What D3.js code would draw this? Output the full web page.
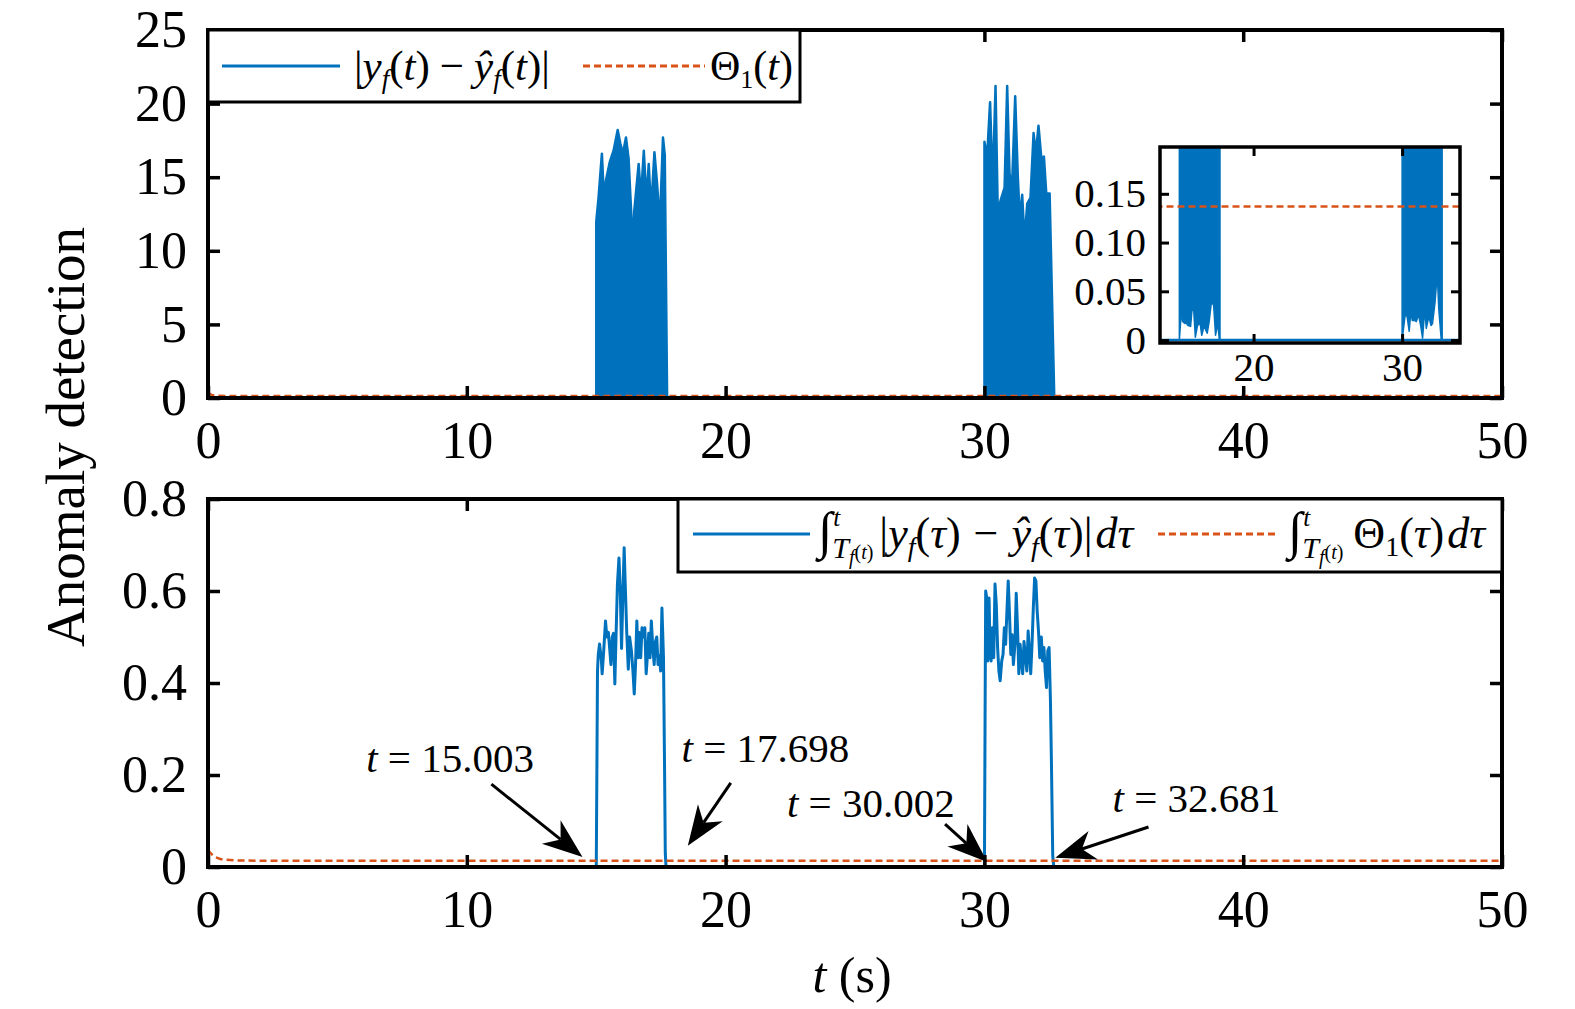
<!doctype html>
<html lang="en">
<head>
<meta charset="utf-8"/>
<title>Anomaly detection</title>
<script src="https://cdn.jsdelivr.net/npm/d3@7"></script>
<style>
  body { margin: 0; background: #fff; }
  svg { display: block; font-family: "Liberation Serif", "Times New Roman", serif; }
</style>
</head>
<body>
<svg id="chart" width="1575" height="1009"></svg>
<script>
// ---- data ----
const xTicks = [0, 10, 20, 30, 40, 50];
const topYTicks = [0, 5, 10, 15, 20, 25];
const botYTicks = [0, 0.2, 0.4, 0.6, 0.8];
const insetXTicks = [20, 30];
const insetYTicks = [0, 0.05, 0.10, 0.15];

// |y_f - yhat_f| : dense oscillation, kept as upper / lower envelope [t, value]
const burst1Upper = [[15.003,0],[15.003,12.0],[15.09,13.6],[15.22,16.6],[15.29,13.9],[15.39,14.9],[15.52,16.0],
  [15.67,16.8],[15.83,18.2],[15.93,17.3],[16.03,16.6],[16.15,17.7],[16.25,16.3],[16.35,12.7],[16.42,10.2],
  [16.47,12.7],[16.64,15.9],[16.73,13.6],[16.84,16.8],[16.94,13.4],[17.03,15.9],[17.12,12.7],[17.25,16.7],
  [17.35,14.6],[17.46,11.8],[17.58,17.7],[17.65,16.5],[17.74,0]];
const burst1Lower = [[15.003,0],[15.15,0.032],[15.22,0.019],[15.37,0.017],[15.48,0.018],[15.50,0.089],[15.52,0.016],
  [15.59,0.015],[15.76,0.014],[15.86,0.032],[15.96,0.030],[15.97,0.19],[15.98,0.028],[16.08,0.003],[16.23,0.015],
  [16.40,0.017],[16.51,0.005],[16.60,0.010],[16.62,0.100],[16.64,0.012],[16.73,0.012],[16.88,0.007],[17.01,0.019],
  [17.16,0.039],[17.31,0.036],[17.44,0.005],[17.59,0.017],[17.70,0],[17.74,0]];
const burst2Upper = [[30.002,0],[30.002,17.4],[30.105,16.4],[30.22,20.1],[30.32,14.3],[30.43,21.2],[30.52,12.3],
  [30.62,13.4],[30.78,14.3],[30.88,21.2],[30.97,15.3],[31.06,14.0],[31.19,20.5],[31.29,15.1],[31.37,12.1],
  [31.46,13.8],[31.55,10.7],[31.655,13.2],[31.78,13.6],[31.90,18.0],[31.99,16.6],[32.09,18.5],[32.20,16.3],
  [32.30,16.4],[32.39,13.9],[32.52,13.9],[32.70,0]];
const burst2Lower = [[30.002,0],[30.21,0.026],[30.34,0.024],[30.48,0.009],[30.59,0.029],[30.69,0.020],[30.82,0.020],
  [30.84,0.079],[30.86,0.020],[30.96,0.019],[31.11,0.026],[31.26,0.014],[31.38,0.002],[31.53,0.032],[31.63,0.012],
  [31.80,0.024],[31.95,0.015],[32.05,0.017],[32.22,0.039],[32.37,0.068],[32.47,0.032],[32.64,0],[32.70,0]];
const residualBase = [[0,0],[50,0]];

// threshold Theta_1(t)
const theta = [[0,0.35],[0.15,0.20],[0.4,0.145],[1,0.137],[50,0.137]];

// windowed integrals
const intResidual1 = [[15.003,0],[15.05,0.426],[15.08,0.462],[15.13,0.485],[15.20,0.45],[15.23,0.42],[15.29,0.47],
  [15.36,0.535],[15.41,0.50],[15.47,0.51],[15.52,0.475],[15.57,0.44],[15.62,0.50],[15.67,0.508],[15.72,0.398],
  [15.77,0.51],[15.82,0.615],[15.88,0.672],[15.93,0.60],[15.98,0.475],[16.03,0.59],[16.08,0.694],[16.13,0.60],
  [16.18,0.51],[16.24,0.43],[16.29,0.50],[16.36,0.47],[16.42,0.426],[16.47,0.376],[16.52,0.44],[16.57,0.535],
  [16.62,0.455],[16.67,0.51],[16.72,0.455],[16.77,0.52],[16.83,0.50],[16.88,0.52],[16.93,0.42],[16.98,0.46],
  [17.03,0.508],[17.08,0.455],[17.13,0.535],[17.19,0.475],[17.24,0.44],[17.29,0.49],[17.34,0.50],[17.39,0.44],
  [17.44,0.46],[17.49,0.426],[17.54,0.563],[17.60,0.455],[17.64,0.224],[17.67,0.03],[17.698,0]];
const intResidual2 = [[30.002,0],[30.03,0.376],[30.05,0.60],[30.09,0.585],[30.13,0.448],[30.18,0.585],[30.22,0.462],
  [30.26,0.448],[30.31,0.52],[30.36,0.455],[30.41,0.615],[30.46,0.57],[30.51,0.477],[30.56,0.426],[30.61,0.405],
  [30.67,0.448],[30.72,0.462],[30.77,0.52],[30.82,0.484],[30.87,0.556],[30.92,0.622],[30.97,0.55],[31.02,0.462],
  [31.07,0.505],[31.12,0.44],[31.18,0.484],[31.23,0.595],[31.28,0.52],[31.33,0.42],[31.38,0.484],[31.43,0.448],
  [31.48,0.42],[31.53,0.49],[31.58,0.462],[31.64,0.426],[31.69,0.513],[31.74,0.47],[31.79,0.42],[31.84,0.484],
  [31.89,0.563],[31.94,0.628],[31.99,0.622],[32.04,0.556],[32.09,0.513],[32.14,0.455],[32.20,0.50],[32.25,0.448],
  [32.30,0.477],[32.35,0.426],[32.40,0.39],[32.45,0.47],[32.50,0.477],[32.55,0.367],[32.59,0.228],[32.64,0.025],
  [32.681,0]];
const intTheta = [[0,0.037],[0.1,0.030],[0.25,0.022],[0.5,0.017],[1,0.0145],[2,0.0137],[50,0.0137]];

const eventTimes = [15.003, 17.698, 30.002, 32.681];

// annotation layout (data coordinates of the bottom panel)
const annotLayout = [
  {text: [6.11, 0.207],  tail: [10.95, 0.180], tip: [14.47, 0.022]},
  {text: [18.30, 0.228], tail: [20.20, 0.183], tip: [18.54, 0.046]},
  {text: [22.37, 0.109], tail: [28.48, 0.093], tip: [30.11, 0.011]},
  {text: [34.95, 0.120], tail: [36.34, 0.087], tip: [32.74, 0.020]}
];

// ---- drawing ----
const BLUE = "#0072BD", ORANGE = "#D95319";
const svg = d3.select("#chart");

const xTop = d3.scaleLinear([0, 50], [208, 1502]);
const yTop = d3.scaleLinear([0, 25], [398, 30]);
const xBot = d3.scaleLinear([0, 50], [208, 1502]);
const yBot = d3.scaleLinear([0, 0.8], [867, 499]);
const xIn = d3.scaleLinear([13.7, 33.9], [1160, 1460]);
const yIn = d3.scaleLinear([-0.003, 0.198], [343, 147]);

function boxAxes(g, x, y, xt, yt, opt) {
  const [x0, x1] = x.range(), [y0, y1] = y.range();
  const fs = opt.fs, tk = opt.tick;
  g.append("g").attr("transform", `translate(0,${y0})`)
    .call(d3.axisBottom(x).tickValues(xt).tickSizeInner(-tk).tickSizeOuter(0).tickPadding(opt.xpad)
      .tickFormat(opt.xfmt || d3.format("d")));
  g.append("g").attr("transform", `translate(0,${y1})`)
    .call(d3.axisTop(x).tickValues(xt).tickSizeInner(-tk).tickSizeOuter(0).tickFormat(""));
  g.append("g").attr("transform", `translate(${x0},0)`)
    .call(d3.axisLeft(y).tickValues(yt).tickSizeInner(-tk).tickSizeOuter(0).tickPadding(opt.ypad)
      .tickFormat(opt.yfmt));
  g.append("g").attr("transform", `translate(${x1},0)`)
    .call(d3.axisRight(y).tickValues(yt).tickSizeInner(-tk).tickSizeOuter(0).tickFormat(""));
  g.selectAll(".domain").remove();
  g.selectAll(".tick line").attr("stroke", "#000").attr("stroke-width", opt.tw);
  g.selectAll(".tick text").attr("font-size", fs).attr("fill", "#000")
    .attr("font-family", "Liberation Serif, serif");
  g.append("rect").attr("x", x0).attr("y", y1).attr("width", x1 - x0).attr("height", y0 - y1)
    .attr("fill", "none").attr("stroke", "#000").attr("stroke-width", opt.bw);
}

function mathText(g, x, y, size, parts) {
  const t = g.append("text").attr("x", x).attr("y", y).attr("font-size", size).attr("fill", "#000");
  let cur = 0;
  parts.forEach(p => {
    const sh = p.sh || 0;
    const ts = t.append("tspan").text(p.s).attr("dy", sh - cur);
    cur = sh;
    if (p.i) ts.attr("font-style", "italic");
    if (p.fs) ts.attr("font-size", p.fs);
    if (p.dx) ts.attr("dx", p.dx);
  });
  return t;
}

// clip for panels
const defs = svg.append("defs");
defs.append("clipPath").attr("id", "clipTop").append("rect")
  .attr("x", 208).attr("y", 30).attr("width", 1294).attr("height", 368);
defs.append("clipPath").attr("id", "clipBot").append("rect")
  .attr("x", 208).attr("y", 499).attr("width", 1294).attr("height", 368);
defs.append("clipPath").attr("id", "clipIn").append("rect")
  .attr("x", 1160).attr("y", 147).attr("width", 300).attr("height", 196);

function envelope(x, y, up, low) {
  const pts = up.concat(low.slice().reverse());
  return d3.line().x(d => x(d[0])).y(d => y(d[1]))(pts) + "Z";
}

// ---- top panel ----
const gTop = svg.append("g");
const topData = gTop.append("g").attr("clip-path", "url(#clipTop)");
topData.append("path").attr("d", d3.line().x(d => xTop(d[0])).y(d => yTop(d[1]))(residualBase))
  .attr("fill", "none").attr("stroke", BLUE).attr("stroke-width", 2.5);
[[burst1Upper, burst1Lower], [burst2Upper, burst2Lower]].forEach(([u, l]) => {
  topData.append("path").attr("d", envelope(xTop, yTop, u, l))
    .attr("fill", BLUE).attr("stroke", BLUE).attr("stroke-width", 2.5).attr("stroke-linejoin", "round");
});
topData.append("path").attr("d", d3.line().x(d => xTop(d[0])).y(d => yTop(d[1]))(theta))
  .attr("fill", "none").attr("stroke", ORANGE).attr("stroke-width", 2.5).attr("stroke-dasharray", "7,4");
boxAxes(gTop, xTop, yTop, xTicks, topYTicks,
  {fs: 52, tick: 12, tw: 3.5, bw: 4, xpad: 23, ypad: 21, yfmt: d3.format("d")});

// legend 1
const lg1 = svg.append("g");
lg1.append("rect").attr("x", 208).attr("y", 30).attr("width", 592).attr("height", 72)
  .attr("fill", "#fff").attr("stroke", "#000").attr("stroke-width", 3);
lg1.append("line").attr("x1", 222).attr("x2", 340).attr("y1", 66).attr("y2", 66)
  .attr("stroke", BLUE).attr("stroke-width", 3);
mathText(lg1, 354, 80, 43, [
  {s: "|"}, {s: "y", i: 1}, {s: "f", i: 1, fs: 27, sh: 8}, {s: "("}, {s: "t", i: 1}, {s: ")"},
  {s: "−", dx: 10}, {s: "ŷ", i: 1, dx: 10}, {s: "f", i: 1, fs: 27, sh: 8}, {s: "("}, {s: "t", i: 1}, {s: ")|"}]);
lg1.append("line").attr("x1", 583).attr("x2", 705).attr("y1", 66).attr("y2", 66)
  .attr("stroke", ORANGE).attr("stroke-width", 3).attr("stroke-dasharray", "7,4");
mathText(lg1, 710, 80, 42, [
  {s: "Θ"}, {s: "1", fs: 26, sh: 8}, {s: "("}, {s: "t", i: 1}, {s: ")"}]);

// inset
const gIn = svg.append("g");
gIn.append("rect").attr("x", 1160).attr("y", 147).attr("width", 300).attr("height", 196).attr("fill", "#fff");
const inData = gIn.append("g").attr("clip-path", "url(#clipIn)");
inData.append("path").attr("d", d3.line().x(d => xIn(d[0])).y(d => yIn(d[1]))(residualBase))
  .attr("fill", "none").attr("stroke", BLUE).attr("stroke-width", 2.5);
[[burst1Upper, burst1Lower], [burst2Upper, burst2Lower]].forEach(([u, l]) => {
  inData.append("path").attr("d", envelope(xIn, yIn, u, l))
    .attr("fill", BLUE).attr("stroke", BLUE).attr("stroke-width", 1.5).attr("stroke-linejoin", "round");
});
inData.append("path").attr("d", d3.line().x(d => xIn(d[0])).y(d => yIn(d[1]))(theta))
  .attr("fill", "none").attr("stroke", ORANGE).attr("stroke-width", 2.5).attr("stroke-dasharray", "7,4");
boxAxes(gIn, xIn, yIn, insetXTicks, insetYTicks,
  {fs: 41, tick: 9, tw: 3, bw: 3.5, xpad: 9, ypad: 14,
   yfmt: d => d === 0 ? "0" : d3.format(".2f")(d)});

// ---- bottom panel ----
const gBot = svg.append("g");
const botData = gBot.append("g").attr("clip-path", "url(#clipBot)");
const intSeries = [[0, 0]].concat(intResidual1, intResidual2, [[50, 0]]);
botData.append("path").attr("d", d3.line().x(d => xBot(d[0])).y(d => yBot(d[1]))(intSeries))
  .attr("fill", "none").attr("stroke", BLUE).attr("stroke-width", 3).attr("stroke-linejoin", "round");
botData.append("path").attr("d", d3.line().x(d => xBot(d[0])).y(d => yBot(d[1]))(intTheta))
  .attr("fill", "none").attr("stroke", ORANGE).attr("stroke-width", 2.5).attr("stroke-dasharray", "7,4");
boxAxes(gBot, xBot, yBot, xTicks, botYTicks,
  {fs: 52, tick: 12, tw: 3.5, bw: 4, xpad: 23, ypad: 21, yfmt: d => d === 0 ? "0" : d3.format(".1f")(d)});

// legend 2
const lg2 = svg.append("g");
lg2.append("rect").attr("x", 678).attr("y", 499).attr("width", 824).attr("height", 73)
  .attr("fill", "#fff").attr("stroke", "#000").attr("stroke-width", 3);
lg2.append("line").attr("x1", 693).attr("x2", 810).attr("y1", 534).attr("y2", 534)
  .attr("stroke", BLUE).attr("stroke-width", 3);
const intLimits = [
  {s: "∫", fs: 52}, {s: "t", i: 1, fs: 25, sh: -22, dx: 1}, {s: "T", i: 1, fs: 30, sh: 10, dx: -8},
  {s: "f", i: 1, fs: 20, sh: 16}, {s: "(", fs: 20, sh: 11}, {s: "t", i: 1, fs: 20, sh: 11}, {s: ")", fs: 20, sh: 11}];
mathText(lg2, 818, 548, 44, intLimits.concat([
  {s: "|", dx: 6}, {s: "y", i: 1}, {s: "f", i: 1, fs: 28, sh: 8}, {s: "("}, {s: "τ", i: 1}, {s: ")"},
  {s: "−", dx: 13}, {s: "ŷ", i: 1, dx: 13}, {s: "f", i: 1, fs: 28, sh: 8}, {s: "("}, {s: "τ", i: 1}, {s: ")|"},
  {s: "d", i: 1, dx: 3}, {s: "τ", i: 1}]));
lg2.append("line").attr("x1", 1158).attr("x2", 1278).attr("y1", 534).attr("y2", 534)
  .attr("stroke", ORANGE).attr("stroke-width", 3).attr("stroke-dasharray", "7,4");
mathText(lg2, 1288, 548, 44, intLimits.concat([
  {s: "Θ", dx: 10}, {s: "1", fs: 28, sh: 8}, {s: "("}, {s: "τ", i: 1}, {s: ")"},
  {s: "d", i: 1, dx: 3}, {s: "τ", i: 1}]));

// annotations
const ann = svg.append("g");
eventTimes.forEach((te, k) => {
  const a = annotLayout[k];
  mathText(ann, xBot(a.text[0]), yBot(a.text[1]), 41, [
    {s: "t", i: 1}, {s: " = " + d3.format(".3f")(te)}]);
  const x1 = xBot(a.tail[0]), y1 = yBot(a.tail[1]), x2 = xBot(a.tip[0]), y2 = yBot(a.tip[1]);
  const ang = Math.atan2(y2 - y1, x2 - x1), L = 40, W = 15, N = 28;
  const ux = Math.cos(ang), uy = Math.sin(ang), px = -uy, py = ux;
  ann.append("line").attr("x1", x1).attr("y1", y1).attr("x2", x2 - ux * N).attr("y2", y2 - uy * N)
    .attr("stroke", "#000").attr("stroke-width", 3);
  const head = [[x2, y2], [x2 - ux * L + px * W, y2 - uy * L + py * W],
    [x2 - ux * N, y2 - uy * N], [x2 - ux * L - px * W, y2 - uy * L - py * W]];
  ann.append("path").attr("d", d3.line()(head) + "Z").attr("fill", "#000");
});

// axis titles
svg.append("text").attr("transform", "translate(84,437) rotate(-90)").attr("text-anchor", "middle")
  .attr("font-size", 55).text("Anomaly detection");
const xl = svg.append("text").attr("x", 852).attr("y", 992).attr("text-anchor", "middle").attr("font-size", 50);
xl.append("tspan").attr("font-style", "italic").text("t");
xl.append("tspan").text(" (s)");
</script>
</body>
</html>
